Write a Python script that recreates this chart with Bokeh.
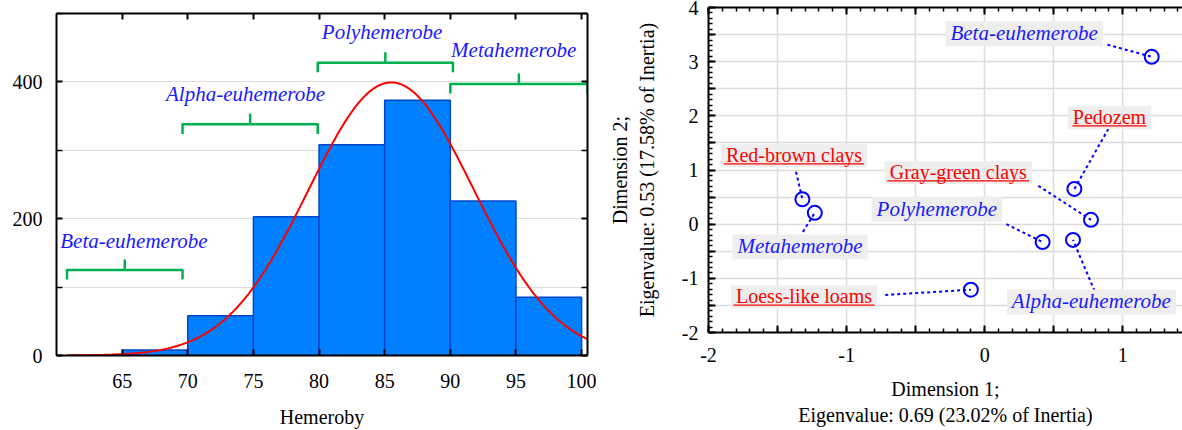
import numpy as np
from bokeh.plotting import figure
from bokeh.layouts import row, column
from bokeh.models import (ColumnDataSource, FixedTicker, SingleIntervalTicker,
                          LinearAxis, CustomJSTickFormatter, CustomLabelingPolicy,
                          Label)
from bokeh.embed import file_html
from bokeh.resources import INLINE

FONT = "Liberation Serif"

# ---------------- data: hemeroby histogram ----------------
bin_left = [65, 70, 75, 80, 85, 90, 95]
bin_right = [70, 75, 80, 85, 90, 95, 100]
counts = [8, 58, 203, 308, 373, 226, 85]
hem_ticks = [65, 70, 75, 80, 85, 90, 95, 100]
count_ticks = [0, 200, 400]
count_minor = [100, 300, 500]
fit_mean = 85.5
fit_sd = 6.3
bin_width = 5

classes = ["Beta-euhemerobe", "Alpha-euhemerobe", "Polyhemerobe", "Metahemerobe"]
class_start = [60.8, 69.6, 79.9, 90.0]
class_end = [69.6, 79.9, 90.2, 100.45]
bracket_level = [125, 338, 428, 397]
class_label_y = [168, 383, 473, 447]
class_label_dx = [0.7, -0.35, -0.25, -0.4]

# ---------------- data: correspondence analysis ----------------
row_names = ["Red-brown clays", "Gray-green clays", "Loess-like loams", "Pedozem"]
row_dim1 = [-1.32, 0.77, -0.10, 0.65]
row_dim2 = [0.46, 0.08, -1.21, 0.65]
col_names = ["Beta-euhemerobe", "Alpha-euhemerobe", "Polyhemerobe", "Metahemerobe"]
col_dim1 = [1.21, 0.64, 0.42, -1.23]
col_dim2 = [3.09, -0.29, -0.33, 0.21]

# label placement (layout)
row_lab_x = [-1.380, -0.191, -1.308, 0.904]
row_lab_y = [1.262, 0.948, -1.344, 1.965]
row_lead_x = [-1.366, 0.389, -0.720, 0.896]
row_lead_y = [0.967, 0.708, -1.307, 1.76]
row_underline_px = [140, 142, 141, 74]
col_lab_x = [0.286, 0.773, -0.346, -1.337]
col_lab_y = [3.515, -1.436, 0.274, -0.42]
col_lead_x = [0.889, 0.796, 0.157, -1.316]
col_lead_y = [3.314, -1.233, 0.0, -0.143]

BLUE_TXT = "#1a1aff"
GREEN = "#00b050"

HIDE_CODE = """
for (let i = 0; i < indices.size; i++) { indices.unset(i) }
return indices
"""
EVEN_CODE = """
for (let i = 0; i < indices.size; i++) { if (i % 2 == 1) indices.unset(i) }
return indices
"""


def style_axis(ax, size="20px"):
    ax.axis_line_width = 2
    ax.axis_line_color = "black"
    ax.major_tick_line_color = "black"
    ax.minor_tick_line_color = "black"
    ax.major_tick_line_width = 2
    ax.minor_tick_line_width = 1.5
    ax.major_label_text_font = FONT
    ax.major_label_text_font_size = size
    ax.major_label_text_color = "black"
    ax.axis_label_text_font = FONT
    ax.axis_label_text_font_size = "20px"
    ax.axis_label_text_font_style = "normal"
    ax.axis_label_text_color = "black"


def hidden_axis(ticker, tick_in, minor_in):
    ax = LinearAxis(ticker=ticker, major_label_policy=CustomLabelingPolicy(code=HIDE_CODE))
    style_axis(ax, size="0px")
    ax.major_tick_in = tick_in
    ax.major_tick_out = 0
    ax.minor_tick_in = minor_in
    ax.minor_tick_out = 0
    ax.major_label_standoff = 0
    return ax


# ================= left: histogram =================
p1 = figure(width=600, height=430, x_range=(60, 100.45), y_range=(0, 500),
            output_backend="svg", toolbar_location=None,
            min_border_left=56, min_border_right=13, min_border_top=13,
            min_border_bottom=73, x_axis_label="Hemeroby")
p1.outline_line_color = None
p1.background_fill_color = "white"
p1.border_fill_color = "white"

xa = p1.xaxis[0]
xa.ticker = FixedTicker(ticks=hem_ticks)
style_axis(xa)
xa.major_tick_in = 6
xa.major_tick_out = 0
xa.major_label_standoff = 18
xa.axis_label_standoff = 15

ya = p1.yaxis[0]
ya.ticker = FixedTicker(ticks=count_ticks, minor_ticks=count_minor)
style_axis(ya)
ya.major_tick_in = 6
ya.major_tick_out = 0
ya.minor_tick_in = 6
ya.minor_tick_out = 0
ya.major_label_standoff = 14

p1.xgrid.grid_line_color = None
p1.ygrid.grid_line_color = "#dcdcdc"
p1.ygrid.minor_grid_line_color = "#dcdcdc"

p1.add_layout(hidden_axis(FixedTicker(ticks=hem_ticks), 6, 0), "above")
p1.add_layout(hidden_axis(FixedTicker(ticks=count_ticks, minor_ticks=count_minor), 6, 6), "right")

hist_src = ColumnDataSource(dict(left=bin_left, right=bin_right, top=counts))
p1.quad(left="left", right="right", bottom=0, top="top", source=hist_src,
        fill_color="#0080ff", line_color="#0046c8", line_width=1.5)

xs_fit = np.linspace(60.8, 100.45, 300)
n_total = sum(counts)
ys_fit = n_total * bin_width / (fit_sd * np.sqrt(2 * np.pi)) * \
    np.exp(-0.5 * ((xs_fit - fit_mean) / fit_sd) ** 2)
p1.line(xs_fit, ys_fit, line_color="red", line_width=2)

# brackets
drop = 14
bx, by = [], []
for s, e, lv, dx, ly, name in zip(class_start, class_end, bracket_level,
                                  class_label_dx, class_label_y, classes):
    m = (s + e) / 2
    bx.append([s, s, m, m, m, e, e])
    by.append([lv - drop, lv, lv, lv + drop, lv, lv, lv - drop])
    p1.add_layout(Label(x=m + dx, y=ly, text=name, text_align="center",
                        text_baseline="middle", text_font=FONT,
                        text_font_size="21px", text_font_style="italic",
                        text_color=BLUE_TXT))
p1.multi_line(bx, by, line_color=GREEN, line_width=2.5, line_join="round")

# ================= right: CA biplot =================
p2 = figure(width=582, height=430, x_range=(-2, 1.433), y_range=(-2, 4),
            output_backend="svg", toolbar_location=None,
            min_border_left=108, min_border_right=0, min_border_top=7,
            min_border_bottom=98,
            x_axis_label="Dimension 1;\nEigenvalue: 0.69 (23.02% of Inertia)",
            y_axis_label="Dimension 2;\nEigenvalue: 0.53 (17.58% of Inertia)")
p2.outline_line_color = None
p2.background_fill_color = "white"
p2.border_fill_color = "white"

fmt_code = "return (Math.abs(tick - Math.round(tick)) < 1e-6) ? Math.round(tick).toString() : '';"
for ax in (p2.xaxis[0], p2.yaxis[0]):
    ax.ticker = SingleIntervalTicker(interval=0.5, num_minor_ticks=5)
    ax.formatter = CustomJSTickFormatter(code=fmt_code)
    ax.major_label_policy = CustomLabelingPolicy(code=EVEN_CODE)
    style_axis(ax)
    ax.major_tick_in = 7
    ax.major_tick_out = 0
    ax.minor_tick_in = 4
    ax.minor_tick_out = 0
p2.xaxis[0].major_label_standoff = 15
p2.xaxis[0].axis_label_standoff = 13
p2.yaxis[0].major_label_standoff = 10
p2.yaxis[0].axis_label_standoff = 21

p2.add_layout(hidden_axis(SingleIntervalTicker(interval=0.5, num_minor_ticks=5), 7, 4), "above")

for g in (p2.xgrid[0], p2.ygrid[0]):
    g.grid_line_color = "#dcdcdc"
    g.grid_line_width = 1.5

# leader lines
p2.segment(x0=row_lead_x, y0=row_lead_y, x1=row_dim1, y1=row_dim2,
           line_color="blue", line_width=2, line_dash="3 3")
p2.segment(x0=col_lead_x, y0=col_lead_y, x1=col_dim1, y1=col_dim2,
           line_color="blue", line_width=2, line_dash="3 3")

# points
p2.scatter(row_dim1 + col_dim1, row_dim2 + col_dim2, marker="circle", size=14,
           fill_color=None, line_color="blue", line_width=2)

# labels
PAD = dict(left=5, right=5, top=0, bottom=1)
for x, y, t in zip(row_lab_x, row_lab_y, row_names):
    p2.add_layout(Label(x=x, y=y, text=t, text_align="center", text_baseline="middle",
                        text_font=FONT, text_font_size="20px", text_color="red",
                        background_fill_color="#eeeeee", padding=PAD))
p2.rect(x=row_lab_x, y=[v - 0.15 for v in row_lab_y], width=row_underline_px,
        height=1.3, width_units="screen", height_units="screen",
        fill_color="red", line_color=None, level="overlay")
for x, y, t in zip(col_lab_x, col_lab_y, col_names):
    p2.add_layout(Label(x=x, y=y, text=t, text_align="center", text_baseline="middle",
                        text_font=FONT, text_font_size="21px", text_font_style="italic",
                        text_color=BLUE_TXT, background_fill_color="#eeeeee",
                        padding=PAD))

layout = row(column(p1), column(p2))
open("out.html", "w").write(file_html(layout, INLINE))
